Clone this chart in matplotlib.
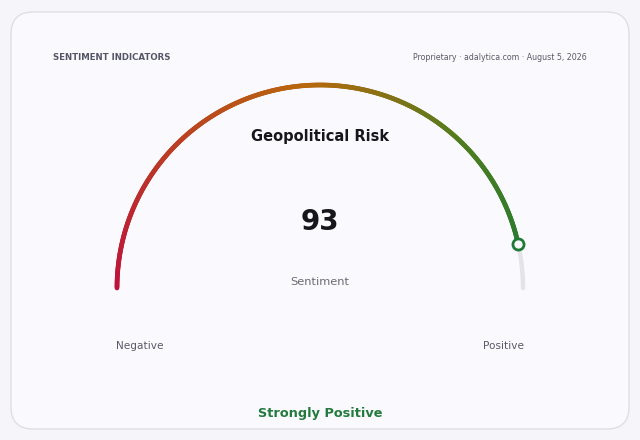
import numpy as np
import matplotlib
matplotlib.use("Agg")
import matplotlib.pyplot as plt
from matplotlib.collections import LineCollection
from matplotlib.colors import LinearSegmentedColormap
from matplotlib.patches import FancyBboxPatch

# data
indicator = "Geopolitical Risk"
value = 93
vmin, vmax = 0, 100
low_label = "Negative"
high_label = "Positive"
metric_label = "Sentiment"
verdict = "Strongly Positive"
header_left = "SENTIMENT INDICATORS"
header_right = "Proprietary · adalytica.com · August 5, 2026"

W, H = 640, 440
fig = plt.figure(figsize=(W / 100, H / 100), dpi=100)
fig.patch.set_facecolor("#f6f6fa")
ax = fig.add_axes([0, 0, 1, 1])
ax.set_xlim(0, W)
ax.set_ylim(H, 0)
ax.axis("off")

# card
card = FancyBboxPatch((11, 12), 618, 417, boxstyle="round,pad=0,rounding_size=22",
                      facecolor="#fafafe", edgecolor="#dedee6", linewidth=1.0)
ax.add_patch(card)

# gauge geometry
cx, cy, r = 320, 288, 203
frac = (value - vmin) / (vmax - vmin)

cmap = LinearSegmentedColormap.from_list(
    "sent", [(0, "#be123c"), (0.48, "#b8680c"), (0.75, "#4e7d1e"), (1, "#1f7a35")])

# background track
t_all = np.linspace(np.pi, 0, 400)
ax.plot(cx + r * np.cos(t_all), cy - r * np.sin(t_all), color="#e4e4e8",
        lw=3.2, solid_capstyle="round", zorder=2)

# value arc with gradient
t = np.linspace(np.pi, np.pi * (1 - frac), 400)
xs = cx + r * np.cos(t)
ys = cy - r * np.sin(t)
pts = np.column_stack([xs, ys]).reshape(-1, 1, 2)
segs = np.concatenate([pts[:-1], pts[1:]], axis=1)
pos = np.linspace(0, frac, len(segs))
lc = LineCollection(segs, colors=cmap(pos), linewidths=3.4, capstyle="round", zorder=3)
ax.add_collection(lc)

# marker
ax.plot(xs[-1], ys[-1], "o", ms=8, mfc="#fafafe", mec="#1f7a35", mew=2, zorder=4)

# texts
ax.text(53, 58, header_left, fontsize=6.2, fontweight="bold", color="#555566",
        ha="left", va="center")
ax.text(587, 58, header_right, fontsize=5.7, color="#5a5a66", ha="right", va="center")
ax.text(320, 137, indicator, fontsize=10.5, fontweight="bold", color="#16161c",
        ha="center", va="center")
ax.text(320, 222, str(value), fontsize=20, fontweight="bold", color="#16161c",
        ha="center", va="center")
ax.text(320, 282, metric_label, fontsize=8.2, color="#6a6a74", ha="center", va="center")
ax.text(140, 346, low_label, fontsize=7.6, color="#5a5a66", ha="center", va="center")
ax.text(503, 346, high_label, fontsize=7.6, color="#5a5a66", ha="center", va="center")
ax.text(320, 414, verdict, fontsize=9.3, fontweight="bold", color="#237a3c",
        ha="center", va="center")

fig.savefig("out.png", dpi=100, facecolor=fig.get_facecolor())
